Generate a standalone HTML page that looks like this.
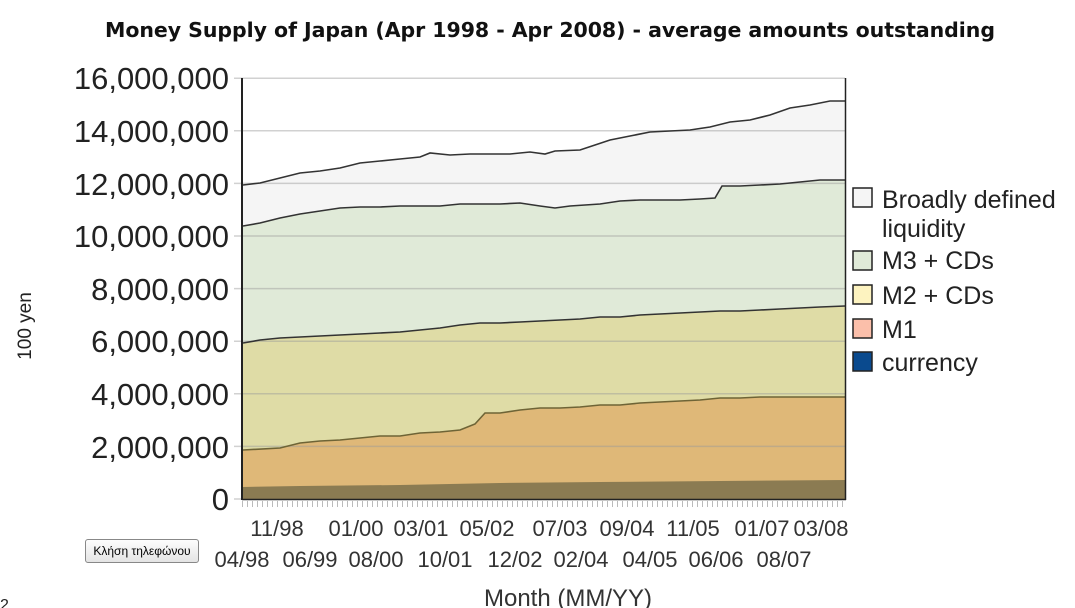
<!DOCTYPE html>
<html><head><meta charset="utf-8"><style>
body{margin:0;background:#fff;width:1075px;height:608px;overflow:hidden;position:relative;font-family:"Liberation Sans",sans-serif}
.btn{position:absolute;left:85px;top:539px;width:112px;height:22px;border:1px solid #888;border-radius:3px;background:linear-gradient(#fdfdfd,#e4e4e4);font-size:12px;line-height:22px;text-align:center;color:#000}
</style></head><body>
<svg width="1075" height="608" style="position:absolute;left:0;top:0">
<text x="550" y="37" font-size="20.5" font-weight="bold" text-anchor="middle" fill="#111" font-family="DejaVu Sans,sans-serif" textLength="890">Money Supply of Japan (Apr 1998 - Apr 2008) - average amounts outstanding</text>
<g font-size="31" fill="#222" text-anchor="end">
<text x="229" y="510">0</text><text x="229" y="458">2,000,000</text><text x="229" y="405">4,000,000</text><text x="229" y="352">6,000,000</text><text x="229" y="300">8,000,000</text><text x="229" y="247">10,000,000</text><text x="229" y="195">12,000,000</text><text x="229" y="142">14,000,000</text><text x="229" y="89">16,000,000</text>
</g>
<text transform="translate(31,326) rotate(-90)" font-size="19" fill="#222" text-anchor="middle">100 yen</text>
<rect x="242" y="78" width="603" height="421" fill="#fff"/>
<polygon fill="#f5f5f5" points="243,499 243,185 260,183 280,178 300,173 320,171 340,168 360,163 380,161 400,159 420,157 430,153 450,155 470,154 490,154 510,154 530,152 545,154 555,151 580,150 595,145 610,140 630,136 650,132 670,131 690,130 710,127 730,122 750,120 770,115 790,108 810,105 830,101 845,101 845,499"/>
<polygon fill="#e0ead8" points="243,499 243,226 260,223 280,218 300,214 320,211 340,208 360,207 380,207 400,206 420,206 440,206 460,204 480,204 500,204 520,203 540,206 555,208 570,206 600,204 620,201 640,200 660,200 680,200 700,199 715,198 722,186 740,186 760,185 780,184 800,182 820,180 845,180 845,499"/>
<polygon fill="#dfdca6" points="243,499 243,343 260,340 280,338 300,337 320,336 340,335 360,334 380,333 400,332 420,330 440,328 460,325 480,323 500,323 520,322 540,321 560,320 580,319 600,317 620,317 640,315 660,314 680,313 700,312 720,311 740,311 760,310 780,309 800,308 820,307 845,306 845,499"/>
<polygon fill="#dfb878" points="243,499 243,450 280,448 300,443 320,441 340,440 360,438 380,436 400,436 420,433 440,432 460,430 475,424 485,413 500,413 520,410 540,408 560,408 580,407 600,405 620,405 640,403 660,402 680,401 700,400 720,398 740,398 760,397 780,397 800,397 820,397 845,397 845,499"/>
<polygon fill="#8b7b52" points="243,499 243,487 300,486 400,485 500,483 600,482 845,480 845,499"/>
<g stroke="#999" stroke-opacity="0.45" stroke-width="1.5">
<line x1="234" x2="845" y1="446.4" y2="446.4"/><line x1="234" x2="845" y1="393.8" y2="393.8"/><line x1="234" x2="845" y1="341.2" y2="341.2"/><line x1="234" x2="845" y1="288.6" y2="288.6"/><line x1="234" x2="845" y1="236" y2="236"/><line x1="234" x2="845" y1="183.4" y2="183.4"/><line x1="234" x2="845" y1="130.8" y2="130.8"/><line x1="234" x2="845" y1="78.2" y2="78.2"/><line x1="234" x2="242" y1="499" y2="499"/>
</g>
<g fill="none" stroke="#333" stroke-width="1.6">
<polyline points="243,185 260,183 280,178 300,173 320,171 340,168 360,163 380,161 400,159 420,157 430,153 450,155 470,154 490,154 510,154 530,152 545,154 555,151 580,150 595,145 610,140 630,136 650,132 670,131 690,130 710,127 730,122 750,120 770,115 790,108 810,105 830,101 845,101"/>
<polyline points="243,226 260,223 280,218 300,214 320,211 340,208 360,207 380,207 400,206 420,206 440,206 460,204 480,204 500,204 520,203 540,206 555,208 570,206 600,204 620,201 640,200 660,200 680,200 700,199 715,198 722,186 740,186 760,185 780,184 800,182 820,180 845,180"/>
<polyline points="243,343 260,340 280,338 300,337 320,336 340,335 360,334 380,333 400,332 420,330 440,328 460,325 480,323 500,323 520,322 540,321 560,320 580,319 600,317 620,317 640,315 660,314 680,313 700,312 720,311 740,311 760,310 780,309 800,308 820,307 845,306"/>
<polyline stroke="#6e6436" points="243,450 280,448 300,443 320,441 340,440 360,438 380,436 400,436 420,433 440,432 460,430 475,424 485,413 500,413 520,410 540,408 560,408 580,407 600,405 620,405 640,403 660,402 680,401 700,400 720,398 740,398 760,397 780,397 800,397 820,397 845,397"/>
</g>
<line x1="242" y1="78" x2="242" y2="500" stroke="#222" stroke-width="2"/>
<line x1="845.5" y1="78" x2="845.5" y2="500" stroke="#222" stroke-width="1.5"/>
<line x1="242" y1="499.5" x2="846" y2="499.5" stroke="#222" stroke-width="1.5"/>
<line x1="242" y1="504" x2="846" y2="504" stroke="#bbb" stroke-width="6" stroke-dasharray="1,4"/>
<g font-size="22" fill="#333" text-anchor="middle">
<text x="277" y="536">11/98</text><text x="356" y="536">01/00</text><text x="421" y="536">03/01</text><text x="487" y="536">05/02</text><text x="560" y="536">07/03</text><text x="627" y="536">09/04</text><text x="693" y="536">11/05</text><text x="762" y="536">01/07</text><text x="821" y="536">03/08</text>
<text x="242" y="567">04/98</text><text x="310" y="567">06/99</text><text x="376" y="567">08/00</text><text x="445" y="567">10/01</text><text x="515" y="567">12/02</text><text x="581" y="567">02/04</text><text x="650" y="567">04/05</text><text x="716" y="567">06/06</text><text x="784" y="567">08/07</text>
</g>
<text x="568" y="606" font-size="24" fill="#333" text-anchor="middle">Month (MM/YY)</text>
<g stroke="#222" stroke-width="1.5">
<rect x="853" y="188" width="19" height="19" fill="#f5f5f5"/>
<rect x="853" y="251" width="19" height="19" fill="#e0ead8"/>
<rect x="853" y="285" width="19" height="19" fill="#fdf3c0"/>
<rect x="853" y="319" width="19" height="19" fill="#fbbfaa"/>
<rect x="853" y="352" width="19" height="19" fill="#0a4a8e"/>
</g>
<g font-size="25" fill="#222">
<text x="882" y="208">Broadly defined</text><text x="882" y="237">liquidity</text>
<text x="882" y="269">M3 + CDs</text><text x="882" y="304">M2 + CDs</text><text x="882" y="338">M1</text><text x="882" y="371">currency</text>
</g>
<text x="0" y="610" font-size="16" fill="#222">2</text>
</svg>
<div class="btn">Κλήση τηλεφώνου</div>
</body></html>
